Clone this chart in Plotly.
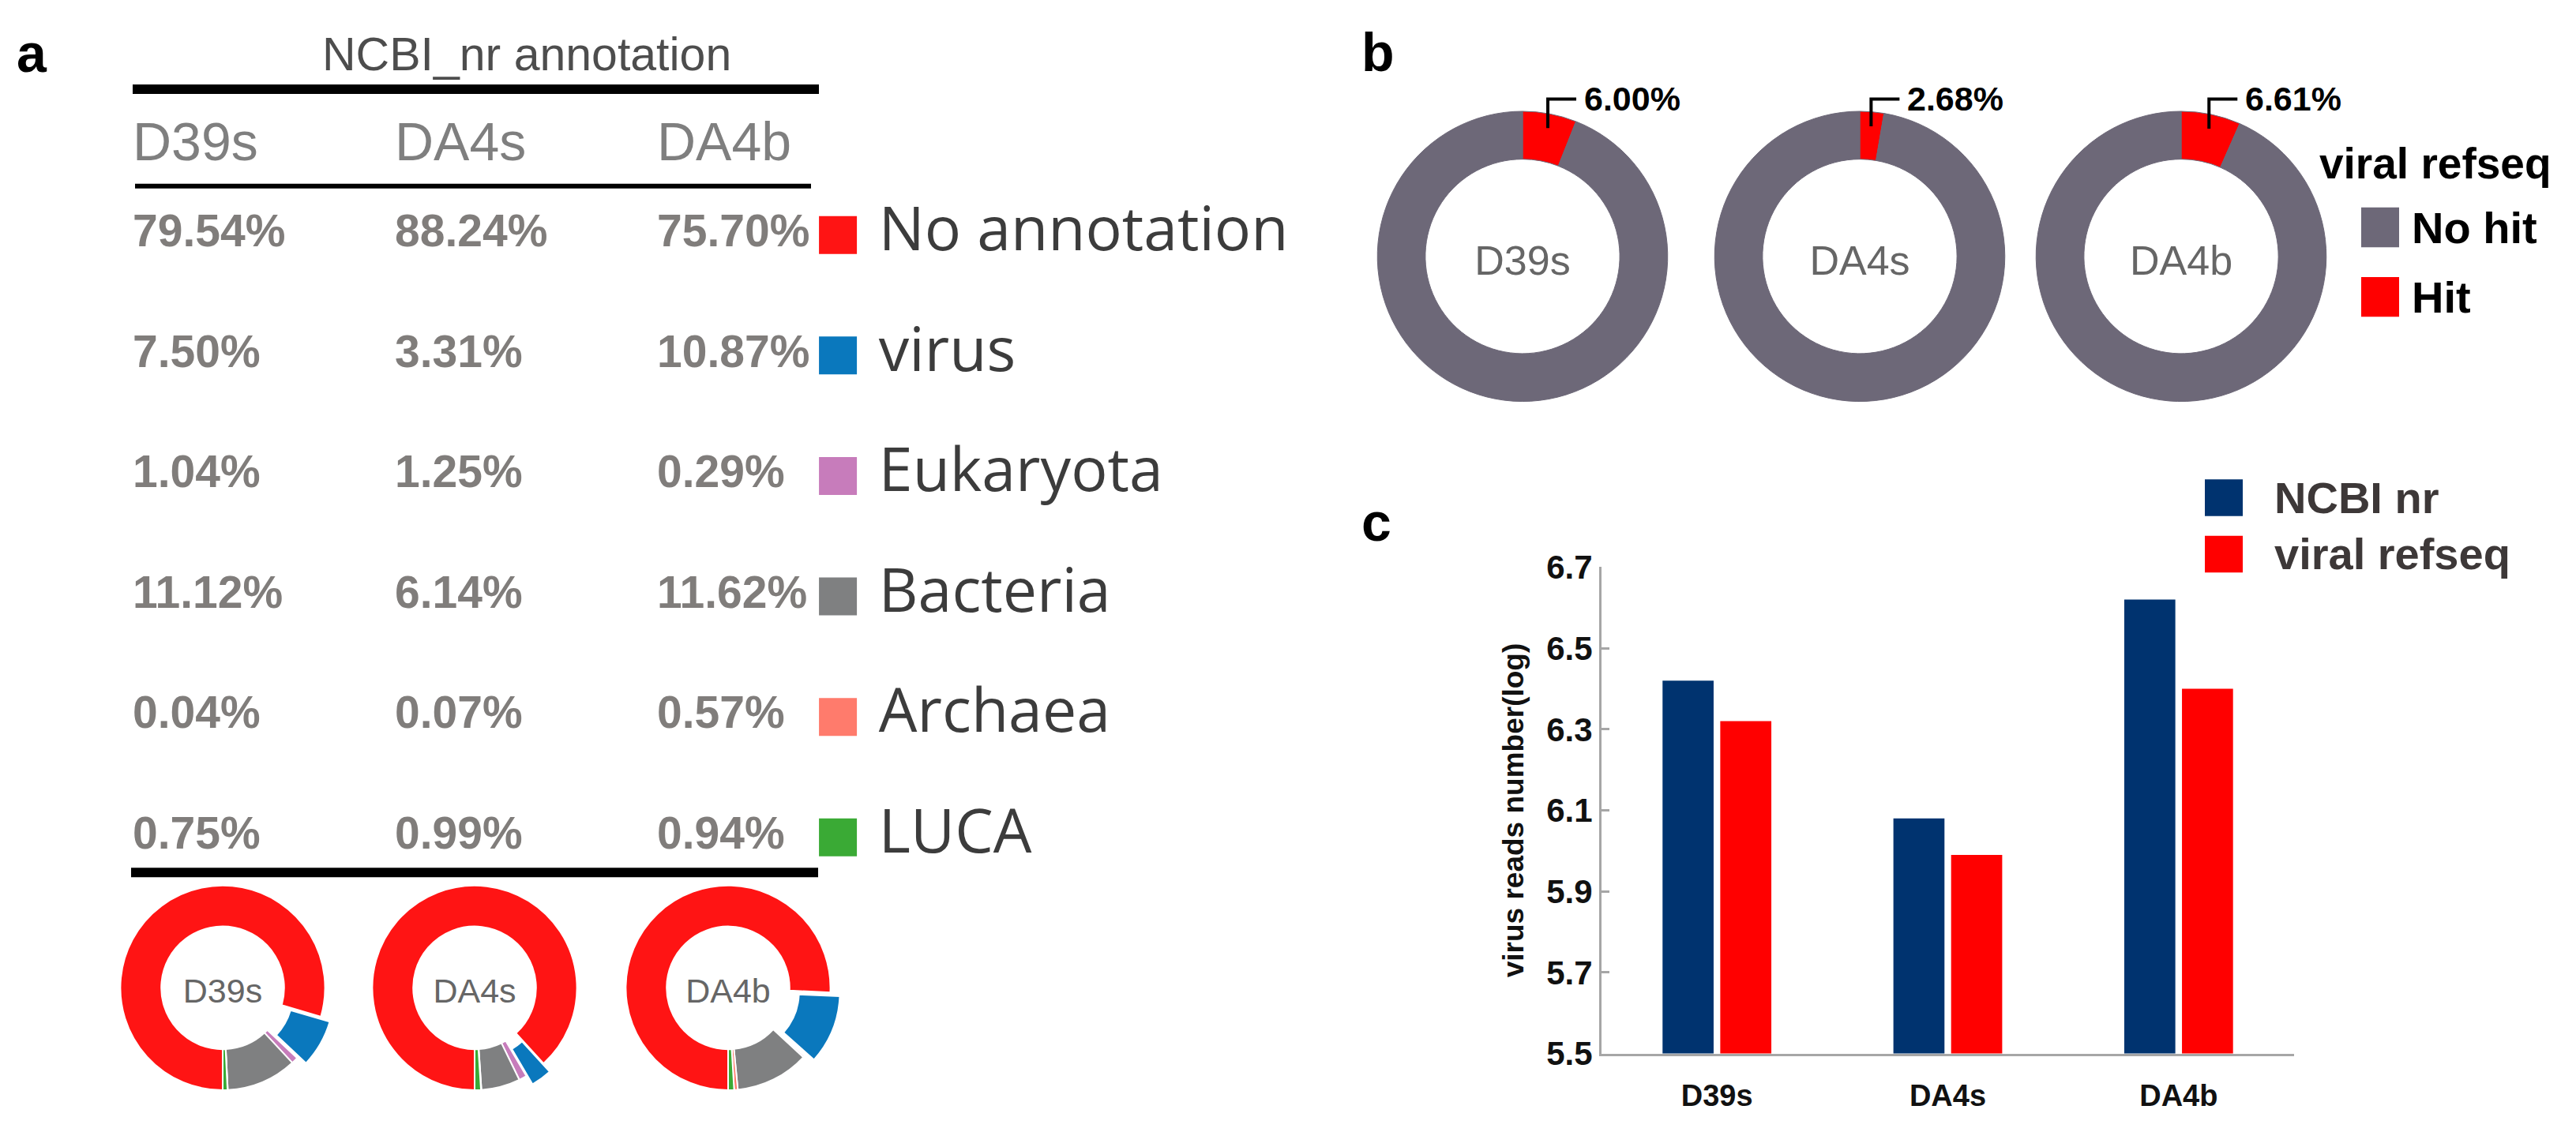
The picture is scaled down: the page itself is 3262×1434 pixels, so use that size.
import math
import plotly.graph_objects as go

W, H = 3262, 1434

# ---------------- data ----------------
samples = ["D39s", "DA4s", "DA4b"]
categories = ["No annotation", "virus", "Eukaryota", "Bacteria", "Archaea", "LUCA"]
d39s_nr = [79.54, 7.50, 1.04, 11.12, 0.04, 0.75]
da4s_nr = [88.24, 3.31, 1.25, 6.14, 0.07, 0.99]
da4b_nr = [75.70, 10.87, 0.29, 11.62, 0.57, 0.94]
viral_hit_pct = [6.00, 2.68, 6.61]
hit_labels = ["Hit", "No hit"]
ncbi_nr_log = [6.42, 6.08, 6.62]
viral_refseq_log = [6.32, 5.99, 6.40]
y_ticks = [5.5, 5.7, 5.9, 6.1, 6.3, 6.5, 6.7]

# ---------------- style ----------------
cat_colors = ["#ff1414", "#0a78bd", "#c77cbb", "#7f8081", "#ff7b6c", "#3aaa35"]
hit_colors = ["#ff0000", "#6d6878"]
bar_colors = ["#00336f", "#ff0000"]
ARIAL = "Liberation Sans, Arial, sans-serif"
OPEN = "Open Sans, Noto Sans, sans-serif"


def px(x):
    return x / W


def py(y):
    return 1 - y / H


fig = go.Figure()

# ---------------- panel a : table ----------------
nr_cols = [d39s_nr, da4s_nr, da4b_nr]
rows = list(range(len(categories)))
for ci, col in enumerate(nr_cols):
    fig.add_trace(go.Scatter(
        x=[ci] * len(col), y=rows, mode="text",
        text=[f"{v:.2f}%" for v in col], textposition="middle right",
        textfont=dict(family=ARIAL, size=57, color="#807d7b", weight="bold"),
        xaxis="x2", yaxis="y2", hoverinfo="skip", cliponaxis=False))

fig.add_trace(go.Scatter(
    x=list(range(len(samples))), y=[-0.735] * len(samples), mode="text",
    text=samples, textposition="middle right",
    textfont=dict(family=ARIAL, size=68, color="#7f7f7f"),
    xaxis="x2", yaxis="y2", hoverinfo="skip", cliponaxis=False))

fig.add_trace(go.Scatter(
    x=[2.69] * len(categories), y=rows, mode="markers",
    marker=dict(symbol="square", size=48, color=cat_colors, line=dict(width=0)),
    xaxis="x2", yaxis="y2", hoverinfo="skip", cliponaxis=False))

fig.add_trace(go.Scatter(
    x=[2.846] * len(categories), y=rows, mode="text",
    text=categories, textposition="middle right",
    textfont=dict(family=OPEN, size=77, color="#3c3c3c"),
    xaxis="x2", yaxis="y2", hoverinfo="skip", cliponaxis=False))

# table rules
for (x0, x1, yy, w) in [(168, 1037, 93, 12), (171, 1027, 220, 6), (166, 1036, 1119, 12)]:
    fig.add_shape(type="line", xref="paper", yref="paper",
                  x0=px(x0), x1=px(x1), y0=py(yy), y1=py(yy),
                  line=dict(color="black", width=w))

# ---------------- panel a : donuts ----------------
a_centers = [282, 601, 922]
a_cy = 1270
a_r = 134
a_pull = 0.1
a_half = a_r * (1 + a_pull)
for s, col, cx in zip(samples, nr_cols, a_centers):
    fig.add_trace(go.Pie(
        labels=categories, values=col, sort=False, direction="clockwise",
        rotation=180, hole=0.6, pull=[0, a_pull, 0, 0, 0, 0],
        marker=dict(colors=cat_colors, line=dict(color="white", width=2)),
        textinfo="none", hoverinfo="label+percent", showlegend=False,
        title=dict(text=s, position="middle center",
                   font=dict(family=ARIAL, size=43, color="#666666")),
        domain=dict(x=[px(cx - a_half), px(cx + a_half)],
                    y=[py(a_cy + a_half), py(a_cy - a_half)])))

# ---------------- panel b : donuts ----------------
b_centers = [1928, 2355, 2762]
b_cy = 312
b_r = 190
for s, p, cx in zip(samples, viral_hit_pct, b_centers):
    fig.add_trace(go.Pie(
        labels=hit_labels, values=[p, 100 - p], sort=False, direction="clockwise",
        rotation=0, hole=0.67,
        marker=dict(colors=hit_colors, line=dict(color="#6d6878", width=1)),
        textinfo="none", hoverinfo="label+percent", showlegend=False,
        title=dict(text=s, position="middle center",
                   font=dict(family=ARIAL, size=52, color="#666666")),
        domain=dict(x=[px(cx - b_r), px(cx + b_r)],
                    y=[py(b_cy + b_r), py(b_cy - b_r)])))
    mid = math.radians(p / 100 * 360 / 2)
    vx = cx + 0.9 * b_r * math.sin(mid)
    vy = b_cy - 0.9 * b_r * math.cos(mid)
    hy = b_cy - b_r - 16
    fig.add_shape(type="path", xref="paper", yref="paper",
                  path=f"M{px(vx)},{py(vy)} L{px(vx)},{py(hy)} L{px(vx + 36)},{py(hy)}",
                  line=dict(color="black", width=4))
    fig.add_annotation(x=px(vx + 44), y=py(hy - 1), xref="paper", yref="paper",
                       text=f"{p:.2f}%", showarrow=False, xanchor="left", yanchor="middle",
                       font=dict(family=ARIAL, size=43, color="black", weight="bold"))

# panel b legend
fig.add_annotation(x=px(2935), y=py(190), xref="paper", yref="paper", text="viral refseq",
                   showarrow=False, xanchor="left", yanchor="middle",
                   font=dict(family=ARIAL, size=55, color="black", weight="bold"))
for lab, colr, yc in [("No hit", hit_colors[1], 274), ("Hit", hit_colors[0], 365)]:
    fig.add_shape(type="rect", xref="paper", yref="paper",
                  x0=px(2990), x1=px(3038), y0=py(yc + 26), y1=py(yc - 26),
                  fillcolor=colr, line=dict(width=0))
    fig.add_annotation(x=px(3052), y=py(yc), xref="paper", yref="paper", text=lab,
                       showarrow=False, xanchor="left", yanchor="middle",
                       font=dict(family=ARIAL, size=56, color="black", weight="bold"))

# ---------------- panel c : bars ----------------
fig.add_trace(go.Bar(x=samples, y=ncbi_nr_log, name="NCBI nr",
                     marker=dict(color=bar_colors[0], line=dict(width=0)),
                     xaxis="x", yaxis="y", showlegend=False))
fig.add_trace(go.Bar(x=samples, y=viral_refseq_log, name="viral refseq",
                     marker=dict(color=bar_colors[1], line=dict(width=0)),
                     xaxis="x", yaxis="y", showlegend=False))

for lab, colr, yc in [("NCBI nr", bar_colors[0], 628), ("viral refseq", bar_colors[1], 702)]:
    fig.add_shape(type="rect", xref="paper", yref="paper",
                  x0=px(2792), x1=px(2840), y0=py(yc + 24), y1=py(yc - 24),
                  fillcolor=colr, line=dict(width=0))
    fig.add_annotation(x=px(2878), y=py(yc), xref="paper", yref="paper", text=lab,
                       showarrow=False, xanchor="left", yanchor="middle",
                       font=dict(family=ARIAL, size=56, color="#3d3838", weight="bold"))

# panel letters and table title
for letter, lx, ly in [("a", 19, 45), ("b", 1722, 44), ("c", 1722, 660)]:
    fig.add_annotation(x=px(lx), y=py(ly), xref="paper", yref="paper", text=letter,
                       showarrow=False, xanchor="left", yanchor="middle",
                       font=dict(family=ARIAL, size=68, color="black", weight="bold"))
fig.add_annotation(x=px(667), y=py(48), xref="paper", yref="paper", text="NCBI_nr annotation",
                   showarrow=False, xanchor="center", yanchor="middle",
                   font=dict(family=ARIAL, size=59, color="#4d4d4d"))

AX_GRAY = "#a6a6a6"
fig.update_layout(
    width=W, height=H, margin=dict(l=0, r=0, t=0, b=0),
    paper_bgcolor="white", plot_bgcolor="rgba(0,0,0,0)",
    showlegend=False, barmode="group", bargap=0.5, bargroupgap=0.115,
    xaxis=dict(domain=[px(2028), px(2905)], range=[-0.5, 2.5], anchor="y",
               showline=True, linecolor=AX_GRAY, linewidth=3, ticks="",
               showgrid=False, zeroline=False, ticklabelstandoff=18,
               tickfont=dict(family=ARIAL, size=38, color="#111111", weight="bold")),
    yaxis=dict(domain=[py(1356), py(719)], range=[5.5, 6.7], anchor="x",
               tickvals=y_ticks, ticktext=[f"{t:.1f}" for t in y_ticks],
               showline=True, linecolor=AX_GRAY, linewidth=3,
               ticks="inside", ticklen=10, tickwidth=3, tickcolor=AX_GRAY,
               showgrid=False, zeroline=False,
               tickfont=dict(family=ARIAL, size=42, color="#111111", weight="bold"),
               title=dict(text="virus reads number(log)", standoff=18,
                          font=dict(family=ARIAL, size=37, color="#111111", weight="bold"))),
    xaxis2=dict(domain=[0, 1], range=[-0.50602, 9.3193], anchor="y2", visible=False,
                fixedrange=True),
    yaxis2=dict(domain=[0, 1], range=[7.2877, -1.7997], anchor="x2", visible=False,
                fixedrange=True),
)

fig.write_html("out.html", config={"displayModeBar": False},
               post_script="document.body.style.margin='0';")
